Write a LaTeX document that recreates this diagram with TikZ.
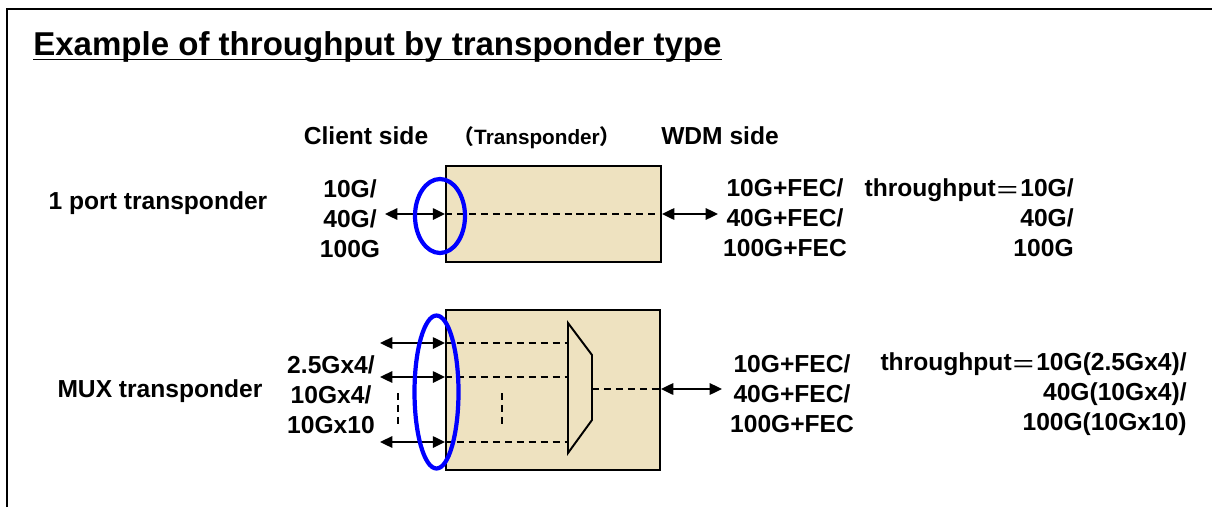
\documentclass[tikz,border=0pt]{standalone}
\usepackage{fontspec}
\setmainfont{Liberation Sans}
\newfontfamily\cjk{Noto Sans CJK JP}
\usetikzlibrary{arrows.meta,shapes.geometric}
\definecolor{boxfill}{RGB}{238,226,192}
\newcommand{\fweq}{\raisebox{-1.5pt}{\cjk\mdseries ＝}}
\tikzset{
  lbl/.style={font=\fontsize{14pt}{17pt}\selectfont\bfseries, inner sep=0pt, align=center},
  titlestyle/.style={font=\fontsize{18.8pt}{22pt}\selectfont\bfseries, inner sep=0pt},
  tbox/.style={draw=black, line width=1.1pt, fill=boxfill, rectangle, inner sep=0pt},
  blueell/.style={ellipse, draw=blue, line width=2.4pt, inner sep=0pt},
  dar/.style={line width=1.1pt, {Triangle[length=7pt,width=6.5pt]}-{Triangle[length=7pt,width=6.5pt]}},
  dsh/.style={line width=1.1pt, dash pattern=on 4pt off 2.8pt},
  frameline/.style={line width=1.7pt},
}
\begin{document}
\begin{tikzpicture}[x=0.02cm,y=-0.02cm]
\useasboundingbox (0,0) rectangle (1212,507);
% frame
\draw[frameline] (7,507) -- (7,9) -- (1212,9);
% title
\node[titlestyle, anchor=base west] (title) at (33,55) {Example of throughput by transponder type};
\coordinate (ul) at (33,59.5);
\draw[line width=1.1pt] (ul) -- (ul -| title.east);
% headers
\node[lbl] (client) at (366,136) {Client side};
\node[lbl, font=\fontsize{11.8pt}{14pt}\selectfont\bfseries] (trp) at (537,138) {{\cjk （}Transponder{\cjk ）}};
\node[lbl] (wdm) at (720,136) {WDM side};
% row labels
\node[lbl] (onep) at (158,203) {1 port transponder};
\node[lbl] (muxl) at (160,391) {MUX transponder};

% ---------- 1 port transponder ----------
\node[tbox, minimum width=4.3cm, minimum height=1.92cm] (box1) at (553.5,214) {};
\coordinate (l1) at (385,214);
\coordinate (r1) at (718,214);
\draw[dsh] (box1.west) -- (box1.east);
\draw[dar] (l1) -- (box1.west);
\draw[dar] (box1.east) -- (r1);
\node[blueell, minimum width=1.0cm, minimum height=1.48cm] (ell1) at (440,216) {};
\node[lbl] (cl1) at (350,219) {10G/\\40G/\\100G};
\node[lbl] (wd1) at (785,218) {10G+FEC/\\40G+FEC/\\100G+FEC};
\node[lbl, align=right, anchor=east] (tp1) at (1074,218) {throughput\fweq 10G/\\40G/\\100G};

% ---------- MUX transponder ----------
\node[tbox, minimum width=4.28cm, minimum height=3.2cm] (box2) at (553,390) {};
% mux trapezoid
\coordinate (m1) at (568,323);
\coordinate (m2) at (592,355);
\coordinate (m3) at (592,420);
\coordinate (m4) at (568,453);
\draw[line width=1.1pt, line join=miter] (m1) -- (m2) -- (m3) -- (m4) -- cycle;
% client rows
\coordinate (a1) at (380,343);
\coordinate (a2) at (380,377);
\coordinate (a3) at (380,442);
\foreach \r in {a1,a2,a3}{
  \draw[dsh] (\r -| box2.west) -- (\r -| m1);
  \draw[dar] (\r) -- (\r -| box2.west);
}
% vertical dots
\coordinate (v1t) at (398,393);
\coordinate (v1b) at (398,428);
\coordinate (v2t) at (502,393);
\coordinate (v2b) at (502,428);
\draw[dsh] (v1t) -- (v1b);
\draw[dsh] (v2t) -- (v2b);
% output
\coordinate (mo) at (592,389);
\coordinate (r2) at (722,389);
\draw[dsh] (mo) -- (mo -| box2.east);
\draw[dar] (mo -| box2.east) -- (r2);
\node[blueell, minimum width=0.88cm, minimum height=3.06cm] (ell2) at (436.5,392) {};
\node[lbl] (cl2) at (331,395) {2.5Gx4/\\10Gx4/\\10Gx10};
\node[lbl] (wd2) at (792,394) {10G+FEC/\\40G+FEC/\\100G+FEC};
\node[lbl, align=right, anchor=east] (tp2) at (1187,394) {throughput\fweq 10G(2.5Gx4)/\\40G(10Gx4)/\\100G(10Gx10)};
\end{tikzpicture}
\end{document}
